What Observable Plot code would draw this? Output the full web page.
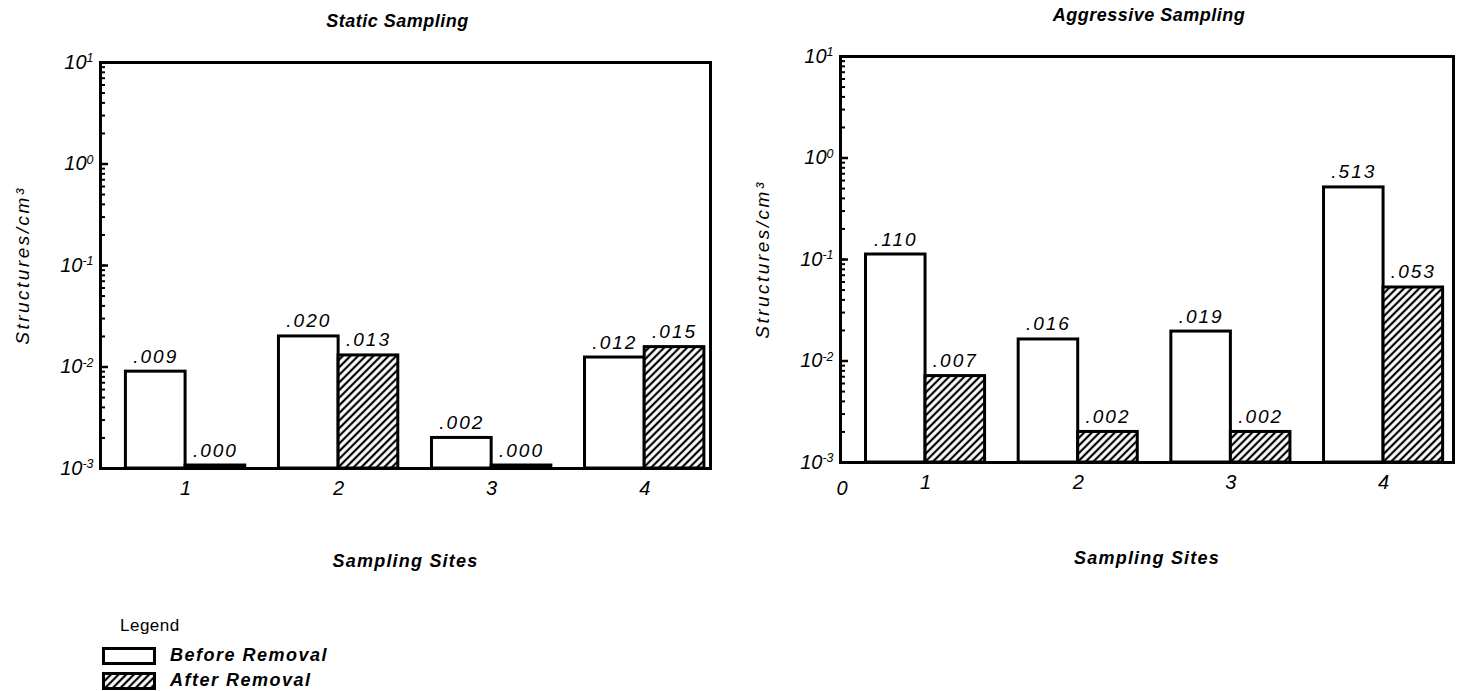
<!DOCTYPE html>
<html>
<head>
<meta charset="utf-8">
<script src="https://cdn.jsdelivr.net/npm/d3@7"></script>
<script src="https://cdn.jsdelivr.net/npm/@observablehq/plot@0.6"></script>
<style>
  body { margin: 0; background: #fff; }
  #root { position: relative; width: 1467px; height: 691px; font-family: "Liberation Sans", Arial, sans-serif; font-style: italic; }
  .panel { position: absolute; top: 0; }
  svg.panel g.vals text { letter-spacing: 2px; }
  svg.panel g.ttl text { letter-spacing: 0.5px; }
  svg.panel g.xlab text { letter-spacing: 1.2px; }
  svg.panel g.ylab text { letter-spacing: 2.5px; }
  svg.panel g[aria-label="y-axis tick label"] { font-size: 20px; }
  svg.panel g[aria-label="x-axis tick label"] { font-size: 20px; }
  .legend { position: absolute; left: 102px; top: 616px; color: #000; }
  .legend .ttl { font-style: normal; font-size: 17px; margin-left: 18px; height: 27px; letter-spacing: 0.5px; }
  .legend .row { display: flex; align-items: center; height: 25px; }
  .legend .row span { font-weight: bold; font-size: 18px; margin-left: 14px; letter-spacing: 1.5px; }
</style>
</head>
<body>
<div id="root"></div>
<script>
// ---------------- data ----------------
const sites = [1, 2, 3, 4];
const staticBefore = [0.0090, 0.0200, 0.0020, 0.0124];
const staticAfter = [0.00107, 0.0130, 0.00107, 0.0157];
const staticBeforeText = [".009", ".020", ".002", ".012"];
const staticAfterText = [".000", ".013", ".000", ".015"];
const aggrBefore = [0.112, 0.0163, 0.0195, 0.513];
const aggrAfter = [0.0071, 0.0020, 0.0020, 0.053];
const aggrBeforeText = [".110", ".016", ".019", ".513"];
const aggrAfterText = [".007", ".002", ".002", ".053"];
const yTicks = [1e-3, 1e-2, 1e-1, 1, 10];
const yDomain = [1e-3, 10];
const panelTitles = ["Static Sampling", "Aggressive Sampling"];
const xLabel = "Sampling Sites";
const yLabel = "Structures/cm\u00B3";
const originLabel = "0";
const legendTitle = "Legend";
const seriesNames = ["Before Removal", "After Removal"];

const FONT = '"Liberation Sans", Arial, sans-serif';
const barW = 0.39;

function rows(before, after, bt, at) {
  return sites.map((s, i) => ({site: s, before: before[i], after: after[i], bt: bt[i], at: at[i]}));
}

const hatchDef = id =>
  `<pattern id="${id}" patternUnits="userSpaceOnUse" width="5.4" height="5.4" patternTransform="rotate(45)">` +
  `<rect width="5.4" height="5.4" fill="white"/>` +
  `<line x1="2.7" y1="0" x2="2.7" y2="5.4" stroke="black" stroke-width="2.2"/></pattern>`;

function addHatch(svg, id) {
  svg.insertAdjacentHTML("afterbegin", `<defs>${hatchDef(id)}</defs>`);
}

function superscripts(svg) {
  svg.querySelectorAll('g[aria-label="y-axis tick label"] text').forEach(t => {
    const parts = t.textContent.split("|");
    if (parts.length === 2) {
      t.innerHTML = `${parts[0]}<tspan dy="-0.55em" font-size="0.62em">${parts[1]}</tspan>`;
    }
  });
}

function panel({data, title, hatchId, mLeft, mRight, mTop, mBottom, xDomain, showOrigin, titleDx, xlabDy}) {
  const minor = d3.scaleLog().domain(yDomain).ticks();
  const marks = [
    Plot.rectY(data, {x1: d => d.site - barW, x2: d => d.site, y1: yDomain[0], y2: d => d.before,
      fill: "white", stroke: "black", strokeWidth: 3}),
    Plot.rectY(data, {x1: d => d.site, x2: d => d.site + barW, y1: yDomain[0], y2: d => d.after,
      fill: `url(#${hatchId})`, stroke: "black", strokeWidth: 3}),
    Plot.text(data, {x: d => d.site - barW / 2, y: d => d.before, text: d => d.bt,
      lineAnchor: "bottom", dy: -9, fontSize: 19, fontStyle: "italic", className: "vals"}),
    Plot.text(data, {x: d => d.site + barW / 2, y: d => d.after, text: d => d.at,
      lineAnchor: "bottom", dy: -9, fontSize: 19, fontStyle: "italic", className: "vals"}),
    Plot.frame({stroke: "black", strokeWidth: 3}),
    Plot.axisY({ticks: minor, tickSize: 4, dx: 5, tickFormat: () => "", strokeWidth: 2}),
    Plot.axisY({ticks: yTicks, tickSize: 7, dx: 8, tickFormat: () => "", strokeWidth: 2.5}),
    Plot.axisY({ticks: yTicks, tickSize: 0, tickPadding: 7, fontSize: 20, fontStyle: "italic",
      tickFormat: d => `10|${Math.round(Math.log10(d))}`}),
    Plot.axisX({ticks: sites, tickSize: 0, tickPadding: 12, fontSize: 20, fontStyle: "italic", tickFormat: d => String(d), label: null}),
    Plot.text([title], {frameAnchor: "top", dy: -48, dx: titleDx, fontSize: 18, fontWeight: "bold", fontStyle: "italic", className: "ttl"}),
    Plot.text([xLabel], {frameAnchor: "bottom", dy: xlabDy, fontSize: 18, fontWeight: "bold", fontStyle: "italic", className: "xlab"}),
    Plot.text([yLabel], {frameAnchor: "left", textAnchor: "middle", dx: -78, rotate: -90, fontSize: 19, fontStyle: "italic", className: "ylab"})
  ];
  if (showOrigin) marks.push(Plot.text([originLabel], {frameAnchor: "bottom-left", dx: -4, dy: 32, fontSize: 20, fontStyle: "italic"}));
  const svg = Plot.plot({
    width: 733, height: 600,
    marginLeft: mLeft, marginRight: mRight, marginTop: mTop, marginBottom: mBottom,
    x: {type: "linear", domain: xDomain},
    y: {type: "log", domain: yDomain},
    style: {fontFamily: FONT, fontStyle: "italic", fontSize: "19px", color: "black", background: "transparent", overflow: "visible"},
    marks
  });
  addHatch(svg, hatchId);
  superscripts(svg);
  return svg;
}

const root = document.getElementById("root");

const left = panel({
  data: rows(staticBefore, staticAfter, staticBeforeText, staticAfterText),
  title: panelTitles[0], hatchId: "hatchL",
  mLeft: 100, mRight: 23, mTop: 62, mBottom: 132,
  xDomain: [0.444, 4.43], showOrigin: false, titleDx: -8, xlabDy: 98
});
left.classList.add("panel");
left.style.left = "0px";
root.appendChild(left);

const right = panel({
  data: rows(aggrBefore, aggrAfter, aggrBeforeText, aggrAfterText),
  title: panelTitles[1], hatchId: "hatchR",
  mLeft: 106, mRight: 14, mTop: 56, mBottom: 138,
  xDomain: [0.443, 4.458], showOrigin: true, titleDx: 2, xlabDy: 101
});
right.classList.add("panel");
right.style.left = "734px";
root.appendChild(right);

// legend
const lg = document.createElement("div");
lg.className = "legend";
lg.innerHTML = `<div class="ttl">${legendTitle}</div>` +
  `<div class="row"><svg width="54" height="18"><rect x="1.5" y="1.5" width="51" height="15" fill="white" stroke="black" stroke-width="3"/></svg><span>${seriesNames[0]}</span></div>` +
  `<div class="row"><svg width="54" height="18"><defs>${hatchDef("hatchG")}</defs><rect x="1.5" y="1.5" width="51" height="15" fill="url(#hatchG)" stroke="black" stroke-width="3"/></svg><span>${seriesNames[1]}</span></div>`;
root.appendChild(lg);
</script>
</body>
</html>
